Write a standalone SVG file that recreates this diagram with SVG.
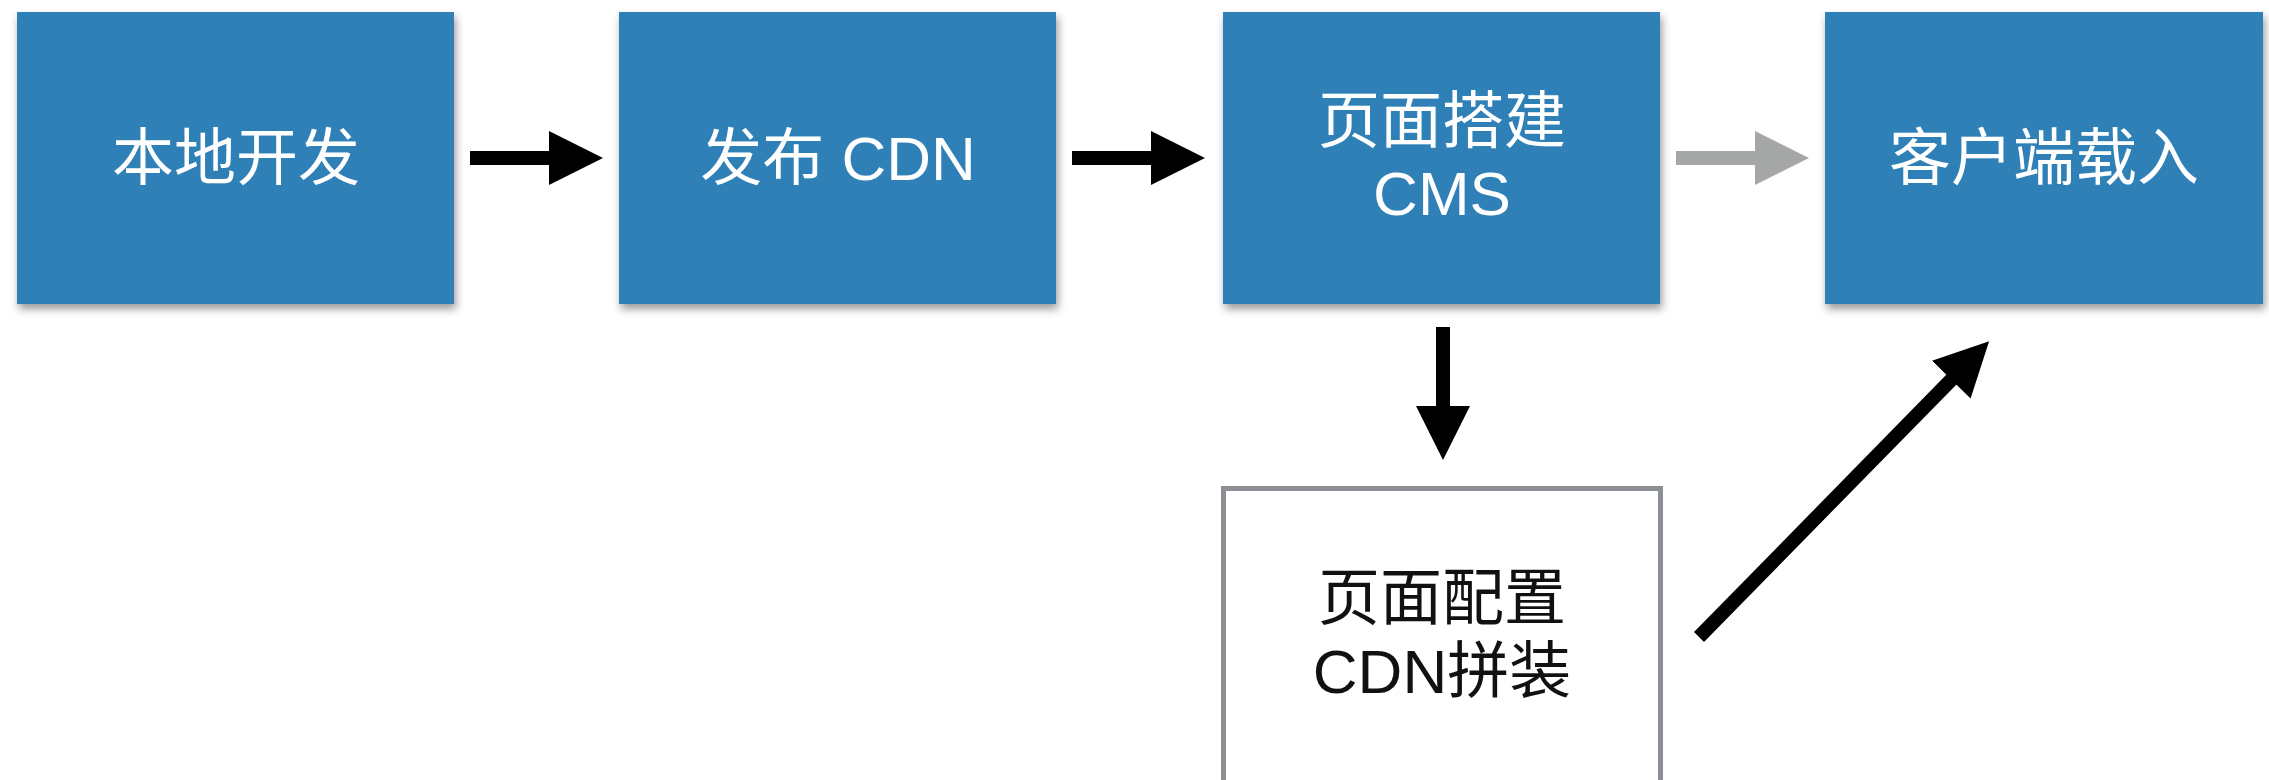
<svg xmlns="http://www.w3.org/2000/svg" width="2269" height="780" viewBox="0 0 2269 780">
<defs>
<style>
.blue{fill:#2f80b6;filter:url(#sh);}
.wbox{fill:#ffffff;stroke:#8c8f93;stroke-width:5;}
.t{font-family:"Liberation Sans","Noto Sans CJK SC",sans-serif;font-size:62px;text-anchor:middle;}
.tw{fill:#ffffff;}
.tb{fill:#111111;}
.a{stroke:#000000;stroke-width:14;fill:none;}
.ag{stroke:#a5a7a6;stroke-width:14;fill:none;}
</style>
<filter id="sh" x="-10%" y="-10%" width="120%" height="125%">
<feDropShadow dx="2" dy="5" stdDeviation="4" flood-color="#000000" flood-opacity="0.4"/>
</filter>
<marker id="hb" markerUnits="userSpaceOnUse" markerWidth="56" markerHeight="56" refX="1" refY="27" orient="auto">
<path d="M0,0 L54,27 L0,54 z" fill="#000000"/>
</marker>
<marker id="hg" markerUnits="userSpaceOnUse" markerWidth="56" markerHeight="56" refX="1" refY="27" orient="auto">
<path d="M0,0 L54,27 L0,54 z" fill="#a5a7a6"/>
</marker>
</defs>
<g id="n1">
<rect class="blue" x="17" y="12" width="437" height="292"/>
<text class="t tw" x="236" y="180">本地开发</text>
</g>
<g id="n2">
<rect class="blue" x="619" y="12" width="437" height="292"/>
<text class="t tw" x="838" y="180">发布 CDN</text>
</g>
<g id="n3">
<rect class="blue" x="1223" y="12" width="437" height="292"/>
<text class="t tw" x="1442" y="143">页面搭建<tspan x="1442" dy="72">CMS</tspan></text>
</g>
<g id="n4">
<rect class="blue" x="1825" y="12" width="438" height="292"/>
<text class="t tw" x="2044" y="180">客户端载入</text>
</g>
<g id="n5">
<rect class="wbox" x="1223.5" y="488.5" width="437" height="320"/>
<text class="t tb" x="1442" y="620">页面配置<tspan x="1442" dy="73">CDN拼装</tspan></text>
</g>
<g id="connectors">
<line class="a" x1="470" y1="158" x2="550" y2="158" marker-end="url(#hb)"/>
<line class="a" x1="1072" y1="158" x2="1152" y2="158" marker-end="url(#hb)"/>
<line class="ag" x1="1676" y1="158" x2="1756" y2="158" marker-end="url(#hg)"/>
<line class="a" x1="1443" y1="327" x2="1443" y2="407" marker-end="url(#hb)"/>
<line class="a" x1="1699" y1="637" x2="1952" y2="379" marker-end="url(#hb)"/>
</g>
</svg>
